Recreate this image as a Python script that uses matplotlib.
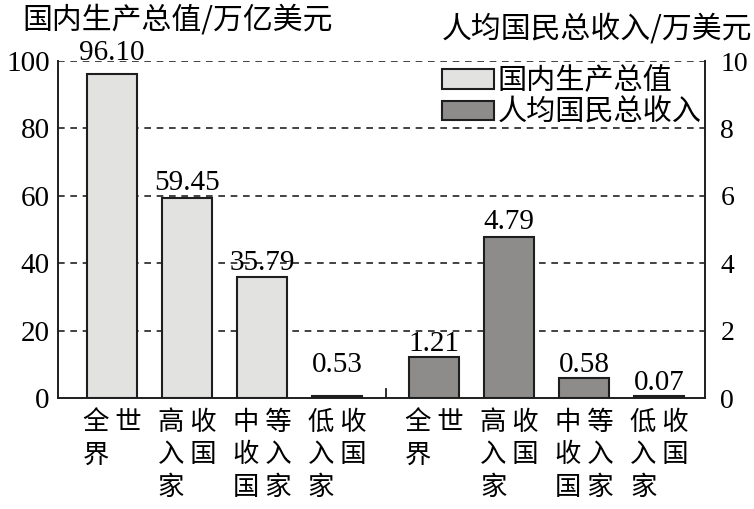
import numpy as np
import matplotlib
matplotlib.use('Agg')
import matplotlib.pyplot as plt
from matplotlib.patches import Patch

categories = ['全 世\n界', '高 收\n入 国\n家', '中 等\n收 入\n国 家', '低 收\n入 国\n家']
gdp = [96.10, 59.45, 35.79, 0.53]           # 国内生产总值 / 万亿美元
gni = [1.21, 4.79, 0.58, 0.07]              # 人均国民总收入 / 万美元
gdp_labels = ['96.10', '59.45', '35.79', '0.53']
gni_labels = ['1.21', '4.79', '0.58', '0.07']
left_ticks = [0, 20, 40, 60, 80, 100]
right_ticks = [0, 2, 4, 6, 8, 10]

CJK = ['Noto Sans CJK SC', 'DejaVu Sans']
SERIF = ['Liberation Serif', 'DejaVu Serif']
light = '#e2e2e0'
dark = '#8d8c8a'
edge = '#1e1e1e'


def main():
    pos1 = np.arange(len(gdp))
    pos2 = np.arange(len(gni)) + len(gdp) + 0.3
    width = 0.67

    fig = plt.figure(figsize=(7.54, 5.09), dpi=100)
    ax = fig.add_axes([58 / 754, 111 / 509, 647 / 754, 337 / 509])
    ax2 = ax.twinx()

    # dashed grid on the left scale, behind the bars
    for v in left_ticks[1:]:
        ax.axhline(v, color='#222222', lw=1.2, dashes=(4, 3.4), zorder=0)

    ax.bar(pos1, gdp, width=width, color=light, edgecolor=edge, linewidth=1.5, zorder=2)
    ax2.bar(pos2, gni, width=width, color=dark, edgecolor=edge, linewidth=1.5, zorder=2)

    pads1 = [6, 1, 1, 13]
    for x, v, s, p in zip(pos1, gdp, gdp_labels, pads1):
        ax.annotate(s, (x, v), xytext=(0, p), textcoords='offset points',
                    ha='center', va='bottom', fontsize=21, family=SERIF, zorder=1)
    pads2 = [0, 1, 0, 0]
    for x, v, s, p in zip(pos2, gni, gni_labels, pads2):
        ax2.annotate(s, (x, v), xytext=(0, p), textcoords='offset points',
                     ha='center', va='bottom', fontsize=21, family=SERIF)

    # small divider tick between the two groups
    mid = (pos1[-1] + pos2[0]) / 2
    ax.axvline(mid, ymin=0, ymax=0.028, color=edge, lw=1.3)

    ax.set_xlim(-0.72, pos2[-1] + 0.61)
    ax.set_ylim(0, 100)
    ax2.set_ylim(0, 10)

    ax.set_yticks(left_ticks)
    ax.set_yticklabels([str(t) for t in left_ticks], family=SERIF, fontsize=21)
    ax2.set_yticks(right_ticks)
    ax2.set_yticklabels([str(t) for t in right_ticks], family=SERIF, fontsize=20)
    ax.set_xticks(np.concatenate([pos1, pos2]))
    ax.set_xticklabels(categories + categories, family=CJK, fontsize=19,
                       linespacing=1.25, va='top', multialignment='left')

    ax.tick_params(axis='y', length=0, pad=6)
    ax2.tick_params(axis='y', length=0, pad=11)
    ax.tick_params(axis='x', length=0, pad=8)

    for a in (ax, ax2):
        a.spines['top'].set_visible(False)
        for s in a.spines.values():
            s.set_linewidth(1.4)
            s.set_color(edge)
    ax.spines['right'].set_visible(False)
    ax2.spines['left'].set_visible(False)
    ax2.spines['bottom'].set_visible(False)

    handles = [Patch(facecolor=light, edgecolor=edge, linewidth=1.5),
               Patch(facecolor=dark, edgecolor=edge, linewidth=1.5)]
    ax2.legend(handles, ['国内生产总值', '人均国民总收入'], loc='upper left',
               bbox_to_anchor=(0.5935, 0.985), frameon=False, borderpad=0,
               borderaxespad=0, handlelength=1.8, handleheight=0.65,
               handletextpad=0.1, labelspacing=0.05,
               prop={'family': CJK, 'size': 21})

    fig.text(22 / 754, 1 - 20 / 509, '国内生产总值/万亿美元', family=CJK,
             fontsize=21.5, ha='left', va='center')
    fig.text(752 / 754, 1 - 30 / 509, '人均国民总收入/万美元', family=CJK,
             fontsize=21.5, ha='right', va='center')

    fig.savefig('out.png', dpi=100)


if __name__ == '__main__':
    main()
